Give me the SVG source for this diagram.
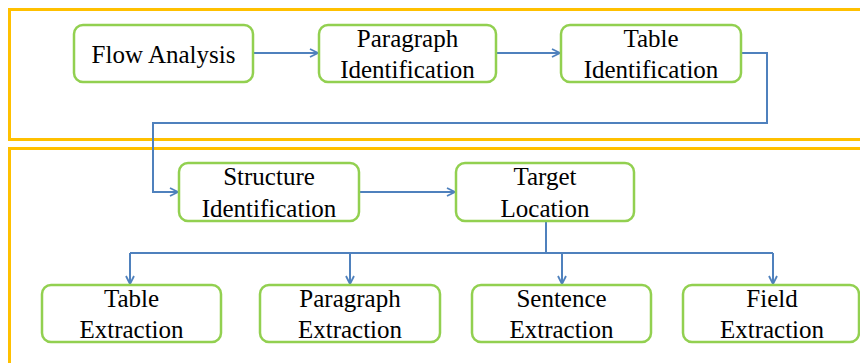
<svg xmlns="http://www.w3.org/2000/svg" width="860" height="363" viewBox="0 0 860 363">
  <defs>
    <marker id="chev" viewBox="0 0 10 10" refX="9" refY="5" markerWidth="10" markerHeight="10" markerUnits="userSpaceOnUse" orient="auto">
      <path d="M1,1 L9,5 L1,9" fill="none" stroke="#4F81BD" stroke-width="1.8"/>
    </marker>
  </defs>
  <style>
    .frame { fill: none; stroke: #FFC000; stroke-width: 3; }
    .box { fill: #FFFFFF; stroke: #92D050; stroke-width: 2.5; }
    .lbl { font-family: "Liberation Serif", "Times New Roman", serif; font-size: 25px; fill: #000000; text-anchor: middle; }
    .wire { fill: none; stroke: #4F81BD; stroke-width: 2; }
    .arr { marker-end: url(#chev); }
  </style>
  <rect width="860" height="363" fill="#FFFFFF"/>

  <!-- stage frames -->
  <rect class="frame" x="9.5" y="9.5" width="880" height="130"/>
  <rect class="frame" x="9.5" y="148.5" width="880" height="240"/>

  <!-- connectors -->
  <g id="connectors">
    <path class="wire arr" d="M253,53 H318"/>
    <path class="wire arr" d="M496,53 H560"/>
    <path class="wire arr" d="M741,53 H767 V123 H153 V192 H178"/>
    <path class="wire arr" d="M359,192 H455"/>
    <path class="wire" d="M546,221 V253"/>
    <path class="wire" d="M130,253 H773"/>
    <path class="wire arr" d="M130,253 V284"/>
    <path class="wire arr" d="M350,253 V284"/>
    <path class="wire arr" d="M562,253 V284"/>
    <path class="wire arr" d="M773,253 V284"/>
  </g>

  <g id="flow-analysis">
    <rect class="box" x="74" y="25" width="179" height="57" rx="9"/>
    <text class="lbl" x="163.5" y="63">Flow Analysis</text>
  </g>
  <g id="paragraph-identification">
    <rect class="box" x="319" y="25" width="177" height="57" rx="9"/>
    <text class="lbl" x="407.5" y="47">Paragraph</text>
    <text class="lbl" x="407.5" y="78">Identification</text>
  </g>
  <g id="table-identification">
    <rect class="box" x="561" y="25" width="180" height="57" rx="9"/>
    <text class="lbl" x="651" y="47">Table</text>
    <text class="lbl" x="651" y="78">Identification</text>
  </g>
  <g id="structure-identification">
    <rect class="box" x="179" y="163" width="180" height="58" rx="9"/>
    <text class="lbl" x="269" y="185">Structure</text>
    <text class="lbl" x="269" y="217">Identification</text>
  </g>
  <g id="target-location">
    <rect class="box" x="456" y="163" width="178" height="58" rx="9"/>
    <text class="lbl" x="545" y="185">Target</text>
    <text class="lbl" x="545" y="217">Location</text>
  </g>
  <g id="table-extraction">
    <rect class="box" x="42" y="285" width="179" height="57" rx="9"/>
    <text class="lbl" x="131.5" y="307">Table</text>
    <text class="lbl" x="131.5" y="338">Extraction</text>
  </g>
  <g id="paragraph-extraction">
    <rect class="box" x="260" y="285" width="180" height="57" rx="9"/>
    <text class="lbl" x="350" y="307">Paragraph</text>
    <text class="lbl" x="350" y="338">Extraction</text>
  </g>
  <g id="sentence-extraction">
    <rect class="box" x="472" y="285" width="179" height="57" rx="9"/>
    <text class="lbl" x="561.5" y="307">Sentence</text>
    <text class="lbl" x="561.5" y="338">Extraction</text>
  </g>
  <g id="field-extraction">
    <rect class="box" x="683" y="285" width="176" height="57" rx="9"/>
    <text class="lbl" x="772" y="307">Field</text>
    <text class="lbl" x="772" y="338">Extraction</text>
  </g>
</svg>
